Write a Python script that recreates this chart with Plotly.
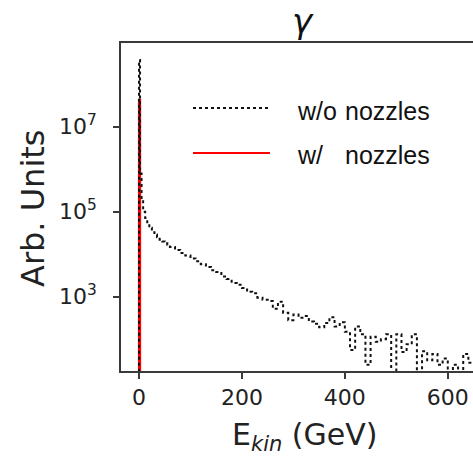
import numpy as np
import plotly.graph_objects as go

# Black histogram (w/o nozzles): left bin edges and counts (Arb. Units)
edges_wo = [0, 2, 5, 8, 12, 16, 20, 25, 30, 35, 40, 45, 50, 55,
            60, 70, 80, 90, 100, 110, 120, 130, 140, 150, 160, 170, 180, 190,
            200, 210, 220, 230, 240, 250, 260, 270, 280, 290, 300, 310, 320, 330,
            340, 350, 360, 370, 380, 390, 400, 410, 420, 430, 440, 450, 460, 470,
            480, 490, 500, 510, 520, 530, 540, 550, 560, 570, 580, 590, 600, 610,
            620, 630, 640]
counts_wo = [3.7e8, 7.9e5, 2.0e5, 1.0e5, 7.1e4, 5.2e4, 4.2e4, 3.3e4, 2.9e4, 2.5e4,
             2.2e4, 2.0e4, 1.8e4, 1.66e4,
             1.48e4, 1.26e4, 1.07e4, 9300, 7900, 6800, 5800, 5000, 4200, 3800,
             3000, 2600, 2100, 1900,
             1600, 1300, 1200, 950, 850, 790, 520, 760, 420, 280, 380, 320, 350, 260,
             230, 190, 240, 330, 200, 250, 150, 56, 200, 130, 25, 115, 87, 100,
             130, 0, 130, 50, 76, 130, 0, 52, 32, 45, 25, 35, 0, 25,
             0, 45, 28]
last_edge_wo = 650

# Red histogram (w/ nozzles)
edges_w = [0, 2]
counts_w = [4.3e7, 0]
last_edge_w = 650

W, H = 473, 457
L, R, T, B = 121, 473, 43, 371


def px(x):
    return (x - L) / (R - L)


def py(y):
    return (B - y) / (B - T)


FLOOR = 1e-3  # stand-in for empty bins on the log axis (drawn below the frame)


def step_xy(edges, counts, last_edge):
    xs = [edges[0]] + list(edges) + [last_edge]
    c = [max(v, FLOOR) for v in counts]
    ys = [FLOOR] + c + [c[-1]]
    return xs, ys


xr, yr = step_xy(edges_w, counts_w, last_edge_w)
xb, yb = step_xy(edges_wo, counts_wo, last_edge_wo)

fig = go.Figure()
fig.add_trace(go.Scatter(x=xr, y=yr, mode="lines", line_shape="hv",
                         line=dict(color="#ff0000", width=2.2),
                         showlegend=False, hoverinfo="skip"))
fig.add_trace(go.Scatter(x=xb, y=yb, mode="lines", line_shape="hv",
                         line=dict(color="#111111", width=2, dash="dot"),
                         showlegend=False, hoverinfo="skip"))

axcol = "#3a3a3a"
tickfont = dict(family="DejaVu Sans", size=22, color="#222222")

fig.update_layout(
    width=W, height=H,
    margin=dict(l=L, r=W - R, t=T, b=H - B),
    paper_bgcolor="white", plot_bgcolor="white",
    showlegend=False,
    xaxis=dict(range=[-35, 649], tickvals=[0, 200, 400, 600],
               ticktext=["0", "200", "400", "600"],
               showgrid=False, zeroline=False,
               showline=True, linecolor=axcol, linewidth=1.6, mirror=True,
               ticks="outside", ticklen=6, tickwidth=1.5, tickcolor=axcol,
               tickfont=tickfont),
    yaxis=dict(type="log", range=[1.252, 8.97],
               tickvals=[1e3, 1e5, 1e7],
               ticktext=["10<sup>3</sup>", "10<sup>5</sup>", "10<sup>7</sup>"],
               showgrid=False, zeroline=False,
               showline=True, linecolor=axcol, linewidth=1.6, mirror=False,
               ticks="outside", ticklen=6, tickwidth=1.5, tickcolor=axcol,
               tickfont=tickfont, ticklabelstandoff=12),
)

annots = []
# title
annots.append(dict(text="<i>γ</i>", x=px(303), y=py(21), xref="paper", yref="paper",
                   xanchor="center", yanchor="middle", showarrow=False,
                   font=dict(family="DejaVu Sans", size=34, color="#111111")))
# x label
annots.append(dict(text="E<sub><i>kin</i></sub> (GeV)", x=px(304), y=py(436),
                   xref="paper", yref="paper", xanchor="center", yanchor="middle",
                   showarrow=False,
                   font=dict(family="DejaVu Sans", size=30, color="#222222")))
# y label
annots.append(dict(text="Arb. Units", x=px(33), y=py(208), xref="paper", yref="paper",
                   xanchor="center", yanchor="middle", textangle=-90, showarrow=False,
                   font=dict(family="DejaVu Sans", size=32, color="#222222")))
# legend texts
legfont = dict(family="Liberation Sans", size=25, color="#111111")
for txt, xx, yy in [("w/o", 295, 111), ("nozzles", 343, 111),
                    ("w/", 295, 155), ("nozzles", 343, 155)]:
    annots.append(dict(text=txt, x=px(xx), y=py(yy), xref="paper", yref="paper",
                       xanchor="left", yanchor="middle", showarrow=False,
                       font=legfont))
fig.update_layout(annotations=annots)

fig.add_shape(type="line", xref="paper", yref="paper", x0=px(193), x1=px(270),
              y0=py(108), y1=py(108), line=dict(color="#111111", width=2, dash="dot"))
fig.add_shape(type="line", xref="paper", yref="paper", x0=px(193), x1=px(270),
              y0=py(153), y1=py(153), line=dict(color="#ff0000", width=2.2))

fig.write_html("out.html")
